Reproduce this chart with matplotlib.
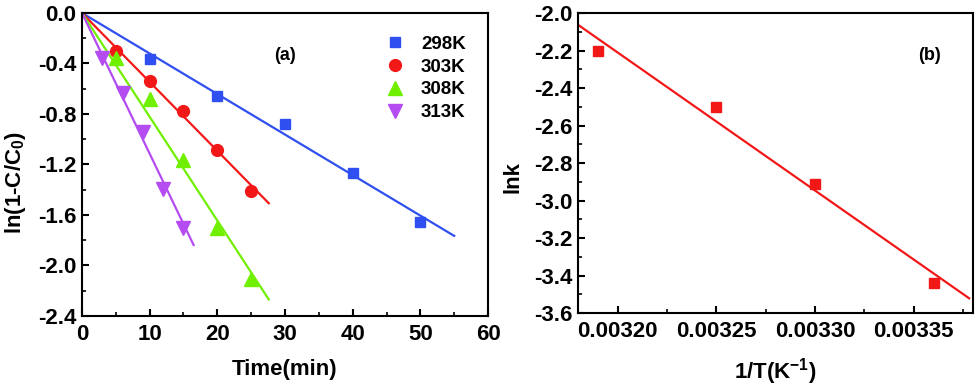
import numpy as np
import matplotlib
matplotlib.use("Agg")
import matplotlib.pyplot as plt
from matplotlib.ticker import MultipleLocator

plt.rcParams['font.family'] = ['Liberation Sans', 'DejaVu Sans']
plt.rcParams['font.weight'] = 'bold'
plt.rcParams['axes.labelweight'] = 'bold'
plt.rcParams['axes.unicode_minus'] = False
plt.rcParams['mathtext.fontset'] = 'custom'
plt.rcParams['mathtext.rm'] = 'Liberation Sans:bold'
plt.rcParams['mathtext.it'] = 'Liberation Sans:bold'
plt.rcParams['mathtext.bf'] = 'Liberation Sans:bold'

# panel (a) data
labels = ['298K', '303K', '308K', '313K']
t_298 = [10, 20, 30, 40, 50]
y_298 = [-0.367, -0.655, -0.879, -1.27, -1.653]
t_303 = [5, 10, 15, 20, 25]
y_303 = [-0.298, -0.539, -0.774, -1.085, -1.413]
t_308 = [5, 10, 15, 20, 25]
y_308 = [-0.36, -0.684, -1.164, -1.706, -2.11]
t_313 = [3, 6, 9, 12, 15]
y_313 = [-0.355, -0.631, -0.94, -1.397, -1.706]
k_fit = [0.0321, 0.0546, 0.0822, 0.1114]
t_end = [55, 27.6, 27.6, 16.5]
xticks_a = [0, 10, 20, 30, 40, 50, 60]
yticks_a = [0.0, -0.4, -0.8, -1.2, -1.6, -2.0, -2.4]

# panel (b) data
inv_T = [0.00336, 0.00330, 0.00325, 0.00319]
ln_k = [-3.44, -2.91, -2.50, -2.20]
xticks_b = [0.00320, 0.00325, 0.00330, 0.00335]
yticks_b = [-2.0, -2.2, -2.4, -2.6, -2.8, -3.0, -3.2, -3.4, -3.6]

colors = ['#2f4ff0', '#f21818', '#70f000', '#b44cf2']
markers = ['s', 'o', '^', 'v']
msizes = [7.5, 8.5, 9.5, 9.5]
tick_font = dict(fontsize=16, fontweight='bold', family='Liberation Sans')

fig = plt.figure(figsize=(9.78, 3.87), dpi=100)
ax1 = fig.add_axes([0.0838, 0.1835, 0.4152, 0.783])
ax2 = fig.add_axes([0.591, 0.191, 0.404, 0.7754])

series = [(t_298, y_298), (t_303, y_303), (t_308, y_308), (t_313, y_313)]
for i, (t, y) in enumerate(series):
    tl = np.array([0, t_end[i]])
    ax1.plot(tl, -k_fit[i] * tl, color=colors[i], lw=1.6, zorder=2)
    ax1.plot(t, y, linestyle='none', marker=markers[i], ms=msizes[i],
             color=colors[i], label=labels[i], zorder=3)

ax1.set_xlim(0, 60)
ax1.set_ylim(-2.4, 0.0)
ax1.set_xticks(xticks_a)
ax1.set_xticklabels([f'{v:d}' for v in xticks_a], **tick_font)
ax1.set_yticks(yticks_a)
ax1.set_yticklabels([f'{v:.1f}' for v in yticks_a], **tick_font)
ax1.xaxis.set_minor_locator(MultipleLocator(5))
ax1.yaxis.set_minor_locator(MultipleLocator(0.2))
ax1.set_xlabel('Time(min)', fontsize=16, fontweight='bold', labelpad=10)
ax1.set_ylabel('ln(1-C/C$_0$)', fontsize=16, fontweight='bold')
ax1.yaxis.set_label_coords(-0.133, 0.44)
ax1.text(0.5, 0.858, '(a)', transform=ax1.transAxes, fontsize=13,
         fontweight='bold', ha='center', va='center')
ax1.legend(loc='upper right', bbox_to_anchor=(0.945, 0.925), frameon=False,
           borderpad=0, labelspacing=0.3, handlelength=1.0,
           handletextpad=0.9, fontsize=13.5, borderaxespad=0)

# panel (b)
ax2.plot(inv_T, ln_k, linestyle='none', marker='s', ms=7.5,
         color=colors[1], zorder=3)
coef = np.polyfit(inv_T, ln_k, 1)
xl = np.array([0.00318, 0.003378])
ax2.plot(xl, np.polyval(coef, xl), color=colors[1], lw=1.6, zorder=2)
ax2.set_xlim(0.00318, 0.00338)
ax2.set_ylim(-3.6, -2.0)
ax2.set_xticks(xticks_b)
ax2.set_xticklabels([f'{v:.5f}' for v in xticks_b], **tick_font)
ax2.set_yticks(yticks_b)
ax2.set_yticklabels([f'{v:.1f}' for v in yticks_b], **tick_font)
ax2.xaxis.set_minor_locator(MultipleLocator(0.000025))
ax2.yaxis.set_minor_locator(MultipleLocator(0.1))
ax2.set_xlabel('1/T(K$^{-1}$)', fontsize=16, fontweight='bold', labelpad=10)
ax2.set_ylabel('lnk', fontsize=16, fontweight='bold')
ax2.yaxis.set_label_coords(-0.139, 0.453)
ax2.text(0.889, 0.86, '(b)', transform=ax2.transAxes, fontsize=13,
         fontweight='bold', ha='center', va='center')

for ax in (ax1, ax2):
    for sp in ax.spines.values():
        sp.set_linewidth(1.5)
    ax.tick_params(which='major', direction='in', length=5, width=1.5)
    ax.tick_params(which='minor', direction='in', length=3, width=1.2)
    ax.tick_params(axis='x', which='major', pad=6)
    ax.tick_params(axis='y', which='major', pad=4)

fig.savefig('out.png', dpi=100)
